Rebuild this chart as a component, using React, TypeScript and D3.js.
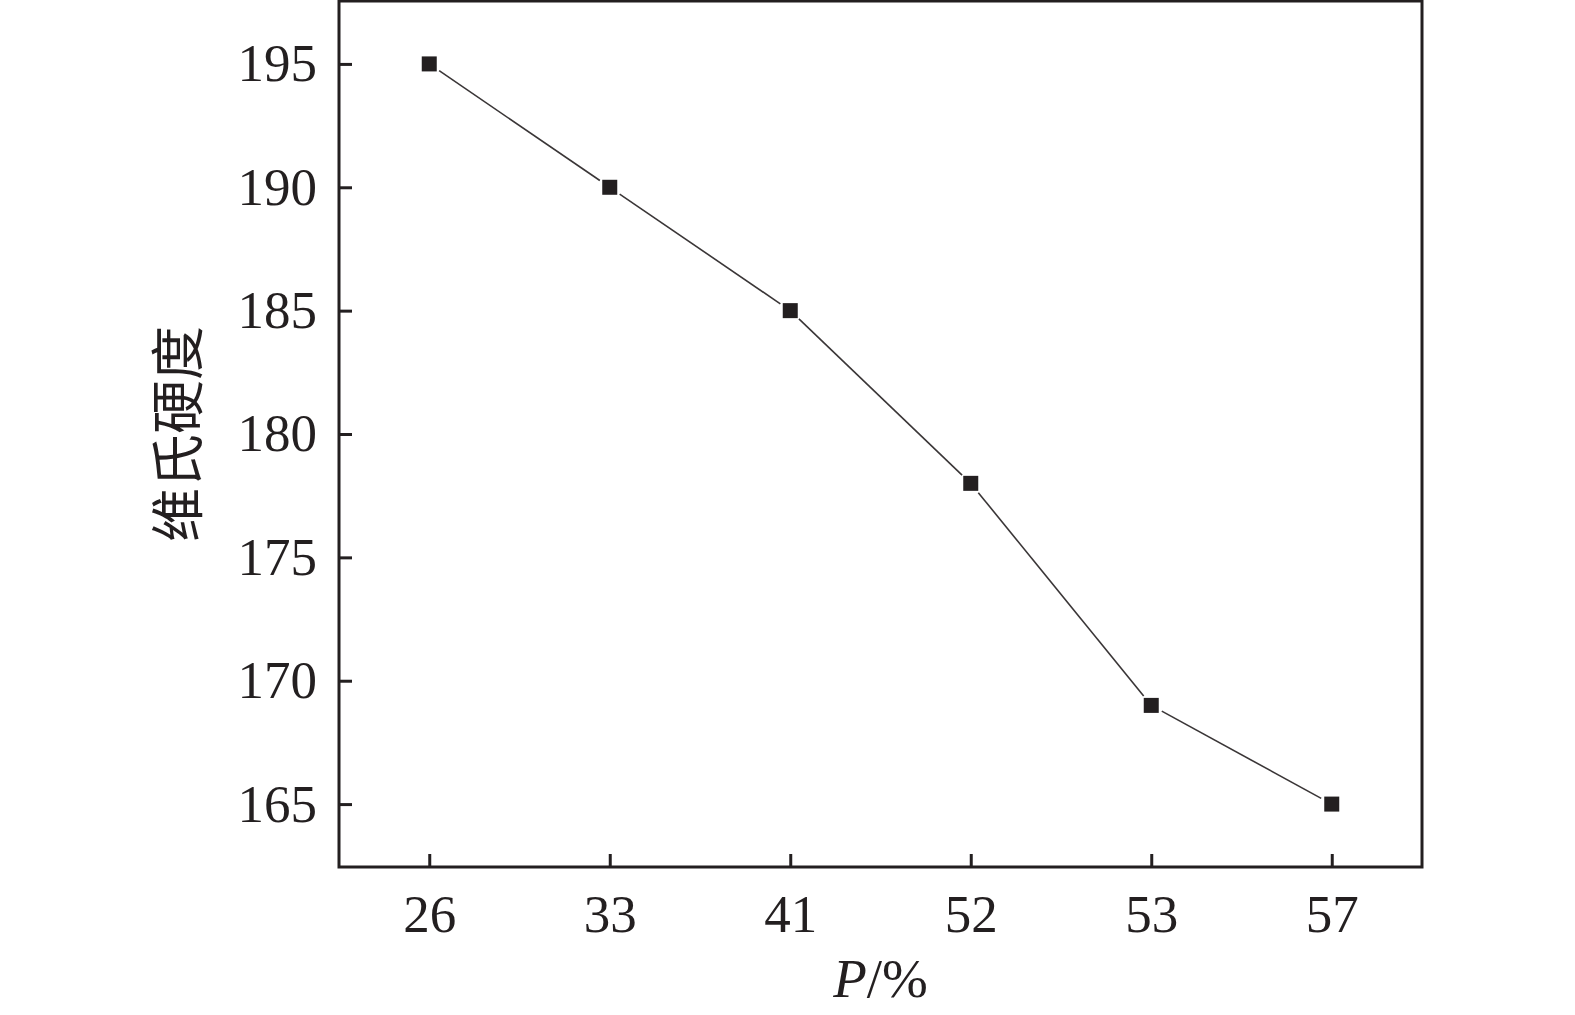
import { axisBottom, axisLeft, scaleLinear, scalePoint, select } from "d3";
import { useEffect, useRef } from "react";

// P values on x axis (categorical) and Vickers hardness
const categories = ["26", "33", "41", "52", "53", "57"];
const hardness = [195, 190, 185, 178, 169, 165];
const yTicks = [165, 170, 175, 180, 185, 190, 195];

const WIDTH = 1575;
const HEIGHT = 1015;
// plot box edges
const BOX = { left: 339, right: 1422, top: 1, bottom: 867 };
const INK = "#231f20";
const FONT = "'Liberation Serif', 'Times New Roman', serif";

const App = () => {
  const svgElem = useRef<SVGSVGElement>(null);

  useEffect(() => {
    if (!svgElem.current) {
      return;
    }
    const svg = select(svgElem.current);
    svg.selectAll("*").remove();

    const xScale = scalePoint<string>()
      .domain(categories)
      .range([BOX.left, BOX.right])
      .padding(0.5);
    const yScale = scaleLinear()
      .domain([162.45, 197.55])
      .range([BOX.bottom, BOX.top]);

    // frame
    svg
      .append("rect")
      .attr("x", BOX.left)
      .attr("y", BOX.top)
      .attr("width", BOX.right - BOX.left)
      .attr("height", BOX.bottom - BOX.top)
      .attr("fill", "none")
      .attr("stroke", INK)
      .attr("stroke-width", 3);

    // axes, ticks pointing inward
    const xAxis = axisBottom(xScale).tickSizeInner(-13).tickSizeOuter(0).tickPadding(27);
    const yAxis = axisLeft(yScale).tickValues(yTicks).tickSizeInner(-13).tickSizeOuter(0).tickPadding(22);

    const gx = svg
      .append("g")
      .attr("transform", `translate(0, ${BOX.bottom})`)
      // @ts-expect-error: d3 typing
      .call(xAxis);
    const gy = svg
      .append("g")
      .attr("transform", `translate(${BOX.left}, 0)`)
      // @ts-expect-error: d3 typing
      .call(yAxis);

    for (const g of [gx, gy]) {
      g.select(".domain").remove();
      g.selectAll(".tick line").attr("stroke", INK).attr("stroke-width", 3);
      g.selectAll(".tick text")
        .attr("fill", INK)
        .style("font-family", FONT)
        .style("font-size", "53px");
    }
    gy.selectAll(".tick text").attr("dy", "0.32em");
    gx.selectAll(".tick text").attr("dy", "0.71em");

    // connecting line, trimmed short of the markers
    const pts = hardness.map((v, i) => [xScale(categories[i]) as number, yScale(v)]);
    const gap = 12;
    for (let i = 0; i < pts.length - 1; i++) {
      const [x1, y1] = pts[i];
      const [x2, y2] = pts[i + 1];
      const len = Math.hypot(x2 - x1, y2 - y1);
      const ux = (x2 - x1) / len;
      const uy = (y2 - y1) / len;
      svg
        .append("line")
        .attr("x1", x1 + ux * gap)
        .attr("y1", y1 + uy * gap)
        .attr("x2", x2 - ux * gap)
        .attr("y2", y2 - uy * gap)
        .attr("stroke", "#3a3637")
        .attr("stroke-width", 1.6);
    }

    // square markers
    svg
      .append("g")
      .selectAll("rect")
      .data(hardness)
      .join("rect")
      .attr("x", (_, i) => (xScale(categories[i]) as number) - 7.5)
      .attr("y", (d) => yScale(d) - 7.5)
      .attr("width", 15)
      .attr("height", 15)
      .attr("fill", INK);

    // y-axis label
    svg
      .append("text")
      .attr("transform", `translate(${198}, ${(BOX.top + BOX.bottom) / 2}) rotate(-90)`)
      .attr("text-anchor", "middle")
      .attr("fill", INK)
      .style("font-family", "'Noto Sans CJK SC', sans-serif")
      .style("font-size", "54px")
      .text("维氏硬度");

    // x-axis label
    const xl = svg
      .append("text")
      .attr("x", (BOX.left + BOX.right) / 2)
      .attr("y", 997)
      .attr("text-anchor", "middle")
      .attr("fill", INK)
      .style("font-family", FONT)
      .style("font-size", "55px");
    xl.append("tspan").style("font-style", "italic").text("P");
    xl.append("tspan").text("/%");
  }, []);

  return (
    <svg
      ref={svgElem}
      width={WIDTH}
      height={HEIGHT}
      style={{ position: "absolute", left: 0, top: 0, background: "white" }}
    />
  );
};

export default App;
